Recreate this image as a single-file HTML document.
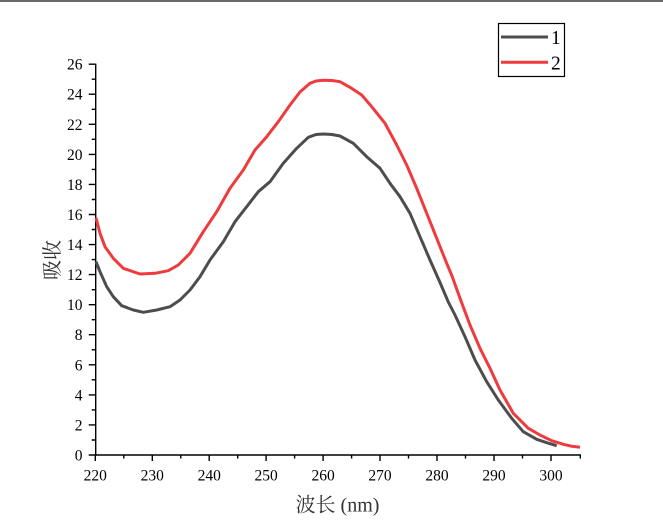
<!DOCTYPE html>
<html>
<head>
<meta charset="utf-8">
<style>
html,body{margin:0;padding:0;background:#fff;}
svg{display:block;}
text{font-family:"Liberation Serif","Noto Serif CJK SC",serif;fill:#000;}
</style>
</head>
<body>
<svg width="663" height="528" viewBox="0 0 663 528" xmlns="http://www.w3.org/2000/svg">
<rect x="0" y="0" width="663" height="528" fill="#fff"/>
<rect x="0" y="0" width="663" height="2" fill="#6a6a6a"/>

<!-- axes -->
<g stroke="#000" stroke-width="1.4" fill="none">
<line x1="95.7" y1="63.6" x2="95.7" y2="455.7"/>
<line x1="95" y1="455" x2="581" y2="455"/>
<!-- y major ticks -->
<path d="M88.7 455H95.7M88.7 424.9H95.7M88.7 394.9H95.7M88.7 364.8H95.7M88.7 334.7H95.7M88.7 304.7H95.7M88.7 274.6H95.7M88.7 244.6H95.7M88.7 214.5H95.7M88.7 184.4H95.7M88.7 154.4H95.7M88.7 124.3H95.7M88.7 94.2H95.7M88.7 64.2H95.7"/>
<!-- y minor ticks -->
<path d="M91.7 440H95.7M91.7 409.9H95.7M91.7 379.8H95.7M91.7 349.8H95.7M91.7 319.7H95.7M91.7 289.7H95.7M91.7 259.6H95.7M91.7 229.5H95.7M91.7 199.5H95.7M91.7 169.4H95.7M91.7 139.3H95.7M91.7 109.3H95.7M91.7 79.2H95.7"/>
<!-- x major ticks -->
<path d="M95.3 455V461M152.3 455V461M209.2 455V461M266.1 455V461M323.1 455V461M380 455V461M437 455V461M494 455V461M551 455V461"/>
<!-- x minor ticks -->
<path d="M123.8 455V458.5M180.8 455V458.5M237.7 455V458.5M294.6 455V458.5M351.6 455V458.5M408.5 455V458.5M465.5 455V458.5M522.5 455V458.5M580.3 455V458.5"/>
</g>

<!-- y tick labels -->
<g font-size="15.5" text-anchor="end">
<text x="82.5" y="460.5">0</text>
<text x="82.5" y="430.4">2</text>
<text x="82.5" y="400.4">4</text>
<text x="82.5" y="370.3">6</text>
<text x="82.5" y="340.2">8</text>
<text x="82.5" y="310.2">10</text>
<text x="82.5" y="280.1">12</text>
<text x="82.5" y="250.1">14</text>
<text x="82.5" y="220">16</text>
<text x="82.5" y="189.9">18</text>
<text x="82.5" y="159.9">20</text>
<text x="82.5" y="129.8">22</text>
<text x="82.5" y="99.7">24</text>
<text x="82.5" y="69.7">26</text>
</g>

<!-- x tick labels -->
<g font-size="15.5" text-anchor="middle">
<text x="95.3" y="480.5">220</text>
<text x="152.3" y="480.5">230</text>
<text x="209.2" y="480.5">240</text>
<text x="266.1" y="480.5">250</text>
<text x="323.1" y="480.5">260</text>
<text x="380" y="480.5">270</text>
<text x="437" y="480.5">280</text>
<text x="494" y="480.5">290</text>
<text x="551" y="480.5">300</text>
</g>

<!-- axis titles -->
<text x="337.5" y="511.5" font-size="20" text-anchor="middle" style="fill:#333">波长 (nm)</text>
<text transform="translate(59,260) rotate(-90)" font-size="20" text-anchor="middle" style="fill:#333">吸收</text>

<!-- series -->
<polyline fill="none" stroke="#4d4d4d" stroke-width="3" stroke-linejoin="round" stroke-linecap="butt"
points="96,261.7 100,271.7 106.7,286.7 113.3,296.7 121.7,305.7 133.3,310 143.3,312.3 156.7,310 170,306.7 180,300 190,290 200,276.7 210,260 223.3,241.7 235,221.7 246.7,206.7 258.3,191.7 270,181.7 283.3,163.3 296.7,148.3 308.3,137.3 316,134.5 323.3,134 332,134.5 340,136 353.3,143.3 366.7,156.7 380,168.3 390,183.3 400,196.7 410,213.3 420,236.7 430,260 440,282.5 448.3,302 455,315 465,336.7 475,360 486.7,381.7 498.3,400 511.7,418.3 523.3,431.7 536.7,439.3 546.7,442.7 556.7,445.7"/>
<polyline fill="none" stroke="#ee3b3d" stroke-width="3" stroke-linejoin="round" stroke-linecap="butt"
points="96,217.7 100,233.3 105,246.7 113.3,258.3 123.3,268.3 140,274 155,273.3 168.3,270.7 178.3,265 190,253.3 203.3,231.7 216.7,211.7 230,188.3 243.3,170 255,150 266.7,136.7 278.3,121.7 290,105 300,92 310,83.3 316,81 323.3,80.3 332,80.5 340,81.7 350,87.3 361.7,95 371.7,106.7 385,123.3 396.7,145 406.7,165 416.7,188.3 426.7,213.3 436.7,238.3 446.7,263.3 452,276 460,298.3 470,325 480,348.3 490,368.3 500,390 513.3,413.3 528.3,428.3 540,435 551.7,440.7 563.3,444.3 572,446.3 580,447.3"/>

<!-- legend -->
<rect x="498.5" y="23.5" width="66" height="53" fill="#fff" stroke="#000" stroke-width="1.2"/>
<line x1="501" y1="37" x2="548" y2="37" stroke="#4d4d4d" stroke-width="3"/>
<line x1="501" y1="62.3" x2="548" y2="62.3" stroke="#ee3b3d" stroke-width="3"/>
<text x="551" y="44" font-size="19.5">1</text>
<text x="551" y="69.5" font-size="19.5">2</text>
</svg>
</body>
</html>
